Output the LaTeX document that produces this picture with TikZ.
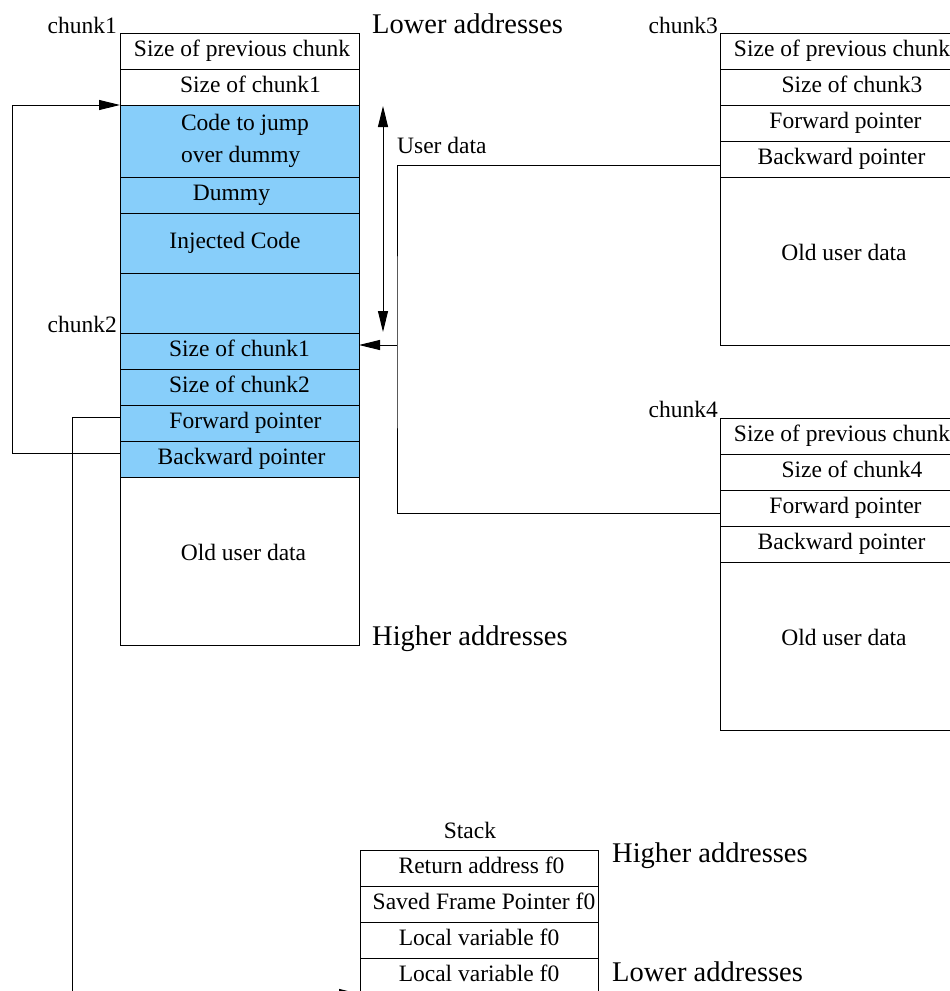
\documentclass[tikz,border=0pt]{standalone}
\usepackage{fontspec}
\setmainfont{Liberation Serif}
\usetikzlibrary{arrows.meta,calc}
\definecolor{cellblue}{HTML}{87CEFA}
\begin{document}
\begin{tikzpicture}[x=1pt,y=-1pt,
  cell/.style={draw, line width=1pt, minimum width=239pt, minimum height=36pt,
    inner sep=0pt, outer sep=0pt, text height=16pt, text depth=5pt,
    font=\fontsize{23.5}{32}\selectfont},
  hot/.style={cell, fill=cellblue},
  tag/.style={inner sep=0pt, font=\fontsize{23.5}{32}\selectfont},
  big/.style={inner sep=0pt, font=\fontsize{28.5}{34}\selectfont},
  wire/.style={line width=1pt},
  tip/.tip={Triangle[length=21pt,width=10pt]},
  ptr/.style={wire, -tip},
]
\useasboundingbox (0,0) rectangle (950,991);
\clip (0,0) rectangle (950,991);

% ---- chunk1 / chunk2 (overflowed chunk) ----
\node[cell] (c1prev) at (239.5,51) {\hspace*{5pt}Size of previous chunk};
\node[cell] (c1size) at (239.5,87) {\hspace*{22pt}Size of chunk1};
\node[hot, minimum height=72pt] (c1code) at (239.5,141) {};
\node[tag, align=left] (c1codetxt) at (245,141) {Code to jump\\over dummy};
\node[hot] (c1dummy) at (239.5,195) {Dummy\hspace*{16pt}};
\node[hot, minimum height=60pt] (c1inj) at (239.5,243) {Injected Code\hspace*{9pt}};
\node[hot, minimum height=60pt] (c1pad) at (239.5,303) {};
\node[hot] (c2prev) at (239.5,351) {Size of chunk1};
\node[hot] (c2size) at (239.5,387) {Size of chunk2};
\node[hot] (c2fd) at (239.5,423) {\hspace*{12pt}Forward pointer};
\node[hot] (c2bk) at (239.5,459) {\hspace*{4pt}Backward pointer};
\node[cell, minimum height=168pt] (c2old) at (239.5,561) {\hspace*{8pt}\raisebox{6pt}{Old user data}};

\node[tag, anchor=base east] (l1) at (117,33) {chunk1};
\node[tag, anchor=base east] (l2) at (117,332) {chunk2};
\node[big, anchor=base west] (lo1) at (372,33) {Lower addresses};
\node[big, anchor=base west] (hi1) at (372,645) {Higher addresses};
\node[tag, anchor=base west] (ud) at (397,153) {User data};

% extent of the user data area
\draw[wire, tip-tip] ([xshift=24pt,yshift=-1pt]c1code.north east) -- ([xshift=24pt,yshift=1pt]c2prev.north east);

% ---- chunk3 ----
\node[cell] (c3prev) at (839.5,51) {\hspace*{5pt}Size of previous chunk};
\node[cell] (c3size) at (839.5,87) {\hspace*{25pt}Size of chunk3};
\node[cell] (c3fd) at (839.5,123) {\hspace*{12pt}Forward pointer};
\node[cell] (c3bk) at (839.5,159) {\hspace*{4pt}Backward pointer};
\node[cell, minimum height=168pt] (c3old) at (839.5,261) {\hspace*{9pt}\raisebox{6pt}{Old user data}};
\node[tag, anchor=base east] (l3) at (718,33) {chunk3};

% ---- chunk4 ----
\node[cell] (c4prev) at (839.5,436) {\hspace*{5pt}Size of previous chunk};
\node[cell] (c4size) at (839.5,472) {\hspace*{25pt}Size of chunk4};
\node[cell] (c4fd) at (839.5,508) {\hspace*{12pt}Forward pointer};
\node[cell] (c4bk) at (839.5,544) {\hspace*{4pt}Backward pointer};
\node[cell, minimum height=168pt] (c4old) at (839.5,646) {\hspace*{9pt}\raisebox{6pt}{Old user data}};
\node[tag, anchor=base east] (l4) at (718,417) {chunk4};

% ---- stack ----
\node[tag, anchor=base] (stk) at (470,838) {Stack};
\node[cell, minimum width=238pt] (s1) at (479,868) {\hspace*{5pt}Return address f0};
\node[cell, minimum width=238pt] (s2) at (479,904) {\hspace*{10pt}Saved Frame Pointer f0};
\node[cell, minimum width=238pt] (s3) at (479,940) {Local variable f0};
\node[cell, minimum width=238pt] (s4) at (479,976) {Local variable f0};
\node[big, anchor=base west] (hi2) at (612,862) {Higher addresses};
\node[big, anchor=base west] (lo2) at (612,981) {Lower addresses};

% ---- pointers ----
\coordinate (join) at ([xshift=38pt,yshift=6pt]c2prev.east);
\draw[wire] ([yshift=-6pt]c3bk.west) -| (join) |- ([yshift=-5pt]c4fd.west);
\draw[ptr] (join) -- (join -| c2prev.east);

\coordinate (lft) at (12,105);
\draw[ptr] ([yshift=6pt]c2bk.west) -| (lft) -- (c1code.north west);

\coordinate (fdx) at (72,994);
\draw[ptr] ([yshift=6pt]c2fd.west) -| (fdx) -- (s4.south west);
\end{tikzpicture}
\end{document}
